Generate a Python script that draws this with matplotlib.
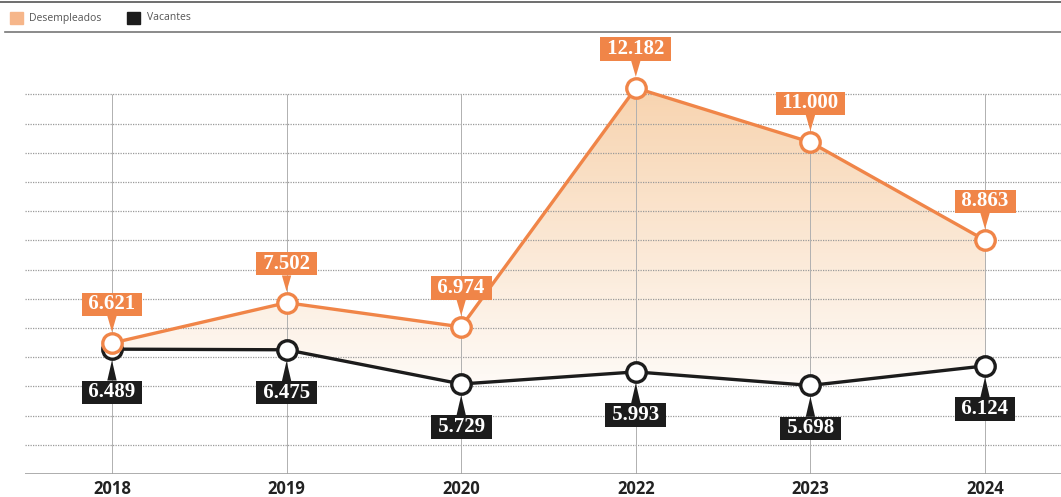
import numpy as np
import matplotlib.pyplot as plt
from matplotlib.patches import Rectangle
from matplotlib.lines import Line2D

years = ["2018", "2019", "2020", "2022", "2023", "2024"]
desempleados = [6621, 7502, 6974, 12182, 11000, 8863]
vacantes = [6489, 6475, 5729, 5993, 5698, 6124]

naranja = "#F08548"
negro = "#1c1c1c"

fig = plt.figure(figsize=(10.61, 4.97), dpi=100)
ax = fig.add_axes([25 / 1061, 23 / 497, 1036 / 1061, 434 / 497])

x = np.arange(len(years))
y0, y1 = 3767, 13228

# rejilla punteada
paso = 636.6
grid_y = y0 + paso * np.arange(1, 14)
ax.hlines(grid_y, -0.498, 5.435, colors="#9a9a9a", linewidth=0.9,
          linestyles=(0, (1, 1)), zorder=1)
ax.vlines(x, y0, grid_y[-1], colors="#b0b0b0", linewidth=0.7, zorder=1)
ax.axhline(y0, color="#a0a0a0", linewidth=1.2, zorder=1)

# relleno degradado entre las dos series
poly = ax.fill_between(x, desempleados, vacantes, color="none", zorder=0.5)
grad = np.zeros((256, 1, 4))
grad[:, 0, 0] = 0.95
grad[:, 0, 1] = 0.70
grad[:, 0, 2] = 0.45
grad[:, 0, 3] = np.linspace(0.58, 0.06, 256)
img = ax.imshow(grad, extent=[-0.5, 5.5, 5700, 12300], aspect="auto",
                origin="upper", zorder=0.5)
img.set_clip_path(poly.get_paths()[0], transform=ax.transData)
ax.set_xlim(-0.498, 5.435)
ax.set_ylim(y0, y1)

ax.plot(x, desempleados, color=naranja, linewidth=2.4, marker="o",
        markersize=14, markerfacecolor="white", markeredgecolor=naranja,
        markeredgewidth=2.4, zorder=4)
ax.plot(x, vacantes, color=negro, linewidth=2.4, marker="o",
        markersize=14, markerfacecolor="white", markeredgecolor=negro,
        markeredgewidth=2.4, zorder=3)


def fmt(v):
    return " " + f"{v:,}".replace(",", ".") + " "


for xi, v in zip(x, desempleados):
    ax.annotate(fmt(v), (xi, v), xytext=(0, 28), textcoords="offset points",
                ha="center", va="center", color="white", fontsize=15,
                fontweight="bold", family="Liberation Serif",
                bbox=dict(boxstyle="square,pad=0.08", fc=naranja, ec="none"),
                arrowprops=dict(arrowstyle="wedge,tail_width=0.45", fc=naranja,
                                ec="none", shrinkA=0, shrinkB=8),
                zorder=5)

for xi, v in zip(x, vacantes):
    ax.annotate(fmt(v), (xi, v), xytext=(0, -31), textcoords="offset points",
                ha="center", va="center", color="white", fontsize=15,
                fontweight="bold", family="Liberation Serif",
                bbox=dict(boxstyle="square,pad=0.08", fc=negro, ec="none"),
                arrowprops=dict(arrowstyle="wedge,tail_width=0.45", fc=negro,
                                ec="none", shrinkA=0, shrinkB=8),
                zorder=5)

ax.set_xticks(x)
ax.set_xticklabels(years, fontsize=12, fontweight="bold", family="Open Sans",
                   color="#222222")
ax.tick_params(axis="x", length=0, pad=4)
ax.set_yticks([])
for s in ax.spines.values():
    s.set_visible(False)

# leyenda y filetes superiores
fig.add_artist(Line2D([0, 1], [1 - 1.5 / 497, 1 - 1.5 / 497], color="#555555",
                      linewidth=1.2))
fig.add_artist(Line2D([5 / 1061, 1], [1 - 32 / 497, 1 - 32 / 497],
                      color="#777777", linewidth=1.2))
fig.add_artist(Rectangle((10 / 1061, 1 - 24 / 497), 13 / 1061, 12 / 497,
                         color="#F6B68A", transform=fig.transFigure))
fig.add_artist(Rectangle((127 / 1061, 1 - 24 / 497), 13 / 1061, 12 / 497,
                         color=negro, transform=fig.transFigure))
fig.text(29 / 1061, 1 - 18 / 497, "Desempleados", fontsize=7.5,
         family="Open Sans", color="#555555", va="center")
fig.text(147 / 1061, 1 - 18 / 497, "Vacantes", fontsize=7.5,
         family="Open Sans", color="#555555", va="center")

fig.savefig("out.png", dpi=100)
